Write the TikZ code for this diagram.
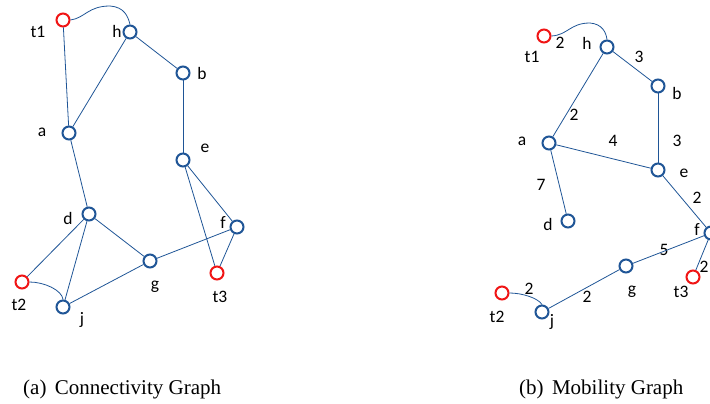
\documentclass[tikz,border=0pt]{standalone}
\usepackage{fontspec}
\setmainfont{Liberation Serif}
\newfontfamily\lblfont{Carlito}
\definecolor{nodeblue}{RGB}{31,85,150}
\definecolor{nodered}{RGB}{240,20,20}
\begin{document}
\begin{tikzpicture}[x=1pt,y=-1pt,
  vtx/.style={circle,draw=nodeblue,line width=2pt,minimum size=13pt,inner sep=0pt},
  term/.style={vtx,draw=nodered},
  lbl/.style={font=\lblfont\fontsize{17.5}{20}\selectfont,inner sep=0pt,text=black},
  conn/.style={draw=nodeblue,line width=0.8pt},
  captext/.style={font=\fontsize{21}{23}\selectfont,inner sep=0pt,anchor=base west}]
\useasboundingbox (0,0) rectangle (710,404);
\clip (0,0) rectangle (710,404);
% ---------- (a) connectivity graph ----------
\node[term] (at1) at (63,20) {};
\node[vtx] (ah) at (130,32) {};
\node[vtx] (ab) at (183,73) {};
\node[vtx] (aa) at (69,133) {};
\node[vtx] (ae) at (183,160) {};
\node[vtx] (ad) at (89,214) {};
\node[vtx] (af) at (237,227) {};
\node[vtx] (ag) at (150,261) {};
\node[term] (at3) at (217,273) {};
\node[term] (at2) at (22,282) {};
\node[vtx] (aj) at (63,307) {};
\node[lbl] (lat1) at (38,32) {t1};
\node[lbl] (lah) at (117,31) {h};
\node[lbl] (lab) at (202,73) {b};
\node[lbl] (laa) at (42,132) {a};
\node[lbl] (lae) at (205,148) {e};
\node[lbl] (lad) at (68,218) {d};
\node[lbl] (laf) at (223,223) {f};
\node[lbl] (lag) at (155,287) {g};
\node[lbl] (lat3) at (220,297) {t3};
\node[lbl] (lat2) at (19,305) {t2};
\node[lbl] (laj) at (82,320) {j};
\draw[conn] (at1.east) .. controls (85,18) and (88,6) .. (110,6) .. controls (124,7) and (128,16) .. (ah.north);
\draw[conn] (at1) -- (aa);
\draw[conn] (ah) -- (aa);
\draw[conn] (ah) -- (ab);
\draw[conn] (ab) -- (ae);
\draw[conn] (aa) -- (ad);
\draw[conn] (ad) -- (at2);
\draw[conn] (ad) -- (aj);
\draw[conn] (ad) -- (ag);
\draw[conn] (ae) -- (af);
\draw[conn] (ae) -- (at3);
\draw[conn] (af) -- (at3);
\draw[conn] (af) -- (ag);
\draw[conn] (ag) -- (aj);
\draw[conn] (at2.east) .. controls (44,282) and (62,290) .. (aj.north);
% ---------- (b) mobility graph ----------
\node[term] (bt1) at (544,36) {};
\node[vtx] (bh) at (607,47) {};
\node[vtx] (bb) at (658,86) {};
\node[vtx] (ba) at (549,143) {};
\node[vtx] (be) at (658,170) {};
\node[vtx] (bd) at (568,221) {};
\node[vtx] (bf) at (711,233) {};
\node[vtx] (bg) at (626,266) {};
\node[term] (bt3) at (693,277) {};
\node[term] (bt2) at (502,293) {};
\node[vtx] (bj) at (542,312) {};
\node[lbl] (lbt1) at (532,57) {t1};
\node[lbl] (lbh) at (587,43) {h};
\node[lbl] (lbb) at (677,93) {b};
\node[lbl] (lba) at (522,141) {a};
\node[lbl] (lbe) at (684,173) {e};
\node[lbl] (lbd) at (548,224) {d};
\node[lbl] (lbf) at (697,229) {f};
\node[lbl] (lbg) at (632,292) {g};
\node[lbl] (lbt3) at (681,292) {t3};
\node[lbl] (lbt2) at (497,317) {t2};
\node[lbl] (lbj) at (552,322) {j};
% weights
\node[lbl] (w1) at (560,43) {2};
\node[lbl] (w2) at (639,57) {3};
\node[lbl] (w3) at (574,115) {2};
\node[lbl] (w4) at (613,141) {4};
\node[lbl] (w5) at (677,141) {3};
\node[lbl] (w6) at (541,185) {7};
\node[lbl] (w7) at (697,198) {2};
\node[lbl] (w8) at (664,250) {5};
\node[lbl] (w9) at (704,267) {2};
\node[lbl] (w10) at (529,289) {2};
\node[lbl] (w11) at (587,297) {2};
\draw[conn] (bt1.east) .. controls (568,35) and (570,23) .. (590,23) .. controls (602,24) and (606,32) .. (bh.north);
\draw[conn] (bh) -- (bb);
\draw[conn] (bh) -- (ba);
\draw[conn] (bb) -- (be);
\draw[conn] (ba) -- (be);
\draw[conn] (ba) -- (bd);
\draw[conn] (be) -- (bf);
\draw[conn] (bf) -- (bg);
\draw[conn] (bg) -- (bj);
\draw[conn] (bf) -- (bt3);
\draw[conn] (bt2.east) .. controls (522,293) and (538,298) .. (bj.north);
% ---------- captions ----------
\node[captext] (capa) at (23,394) {(a)\hspace{0.4em}Connectivity Graph};
\node[captext] (capb) at (519,394) {(b)\hspace{0.4em}Mobility Graph};
\end{tikzpicture}
\end{document}
